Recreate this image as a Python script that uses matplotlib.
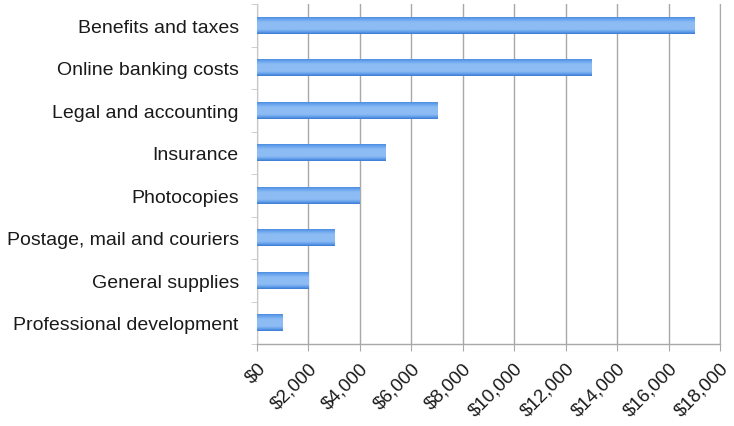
import numpy as np
import matplotlib
matplotlib.use('Agg')
import matplotlib.pyplot as plt
from matplotlib.ticker import FuncFormatter, MultipleLocator, FixedLocator
from matplotlib.colors import LinearSegmentedColormap

categories = ['Benefits and taxes', 'Online banking costs', 'Legal and accounting',
              'Insurance', 'Photocopies', 'Postage, mail and couriers',
              'General supplies', 'Professional development']
costs = [17000, 13000, 7000, 5000, 4000, 3000, 2000, 1000]

plt.rcParams['font.family'] = ['Liberation Sans', 'DejaVu Sans']

fig = plt.figure(figsize=(7.34, 4.27), dpi=100)
ax = fig.add_axes([0.350, 0.192, 0.631, 0.796])

y = np.arange(len(categories))[::-1]
bars = ax.barh(y, costs, height=0.40, color='#6aa6ea', zorder=3)

# cylinder-like shading on each bar
shade = np.concatenate([
    np.linspace(0.0, 1.0, 18), np.ones(26), np.linspace(1.0, 0.25, 20)
]).reshape(-1, 1)
cmap = LinearSegmentedColormap.from_list('cyl', ['#3c7bd2', '#62a0ec', '#8dbcf4'])
for b in bars:
    x0, y0 = b.get_x(), b.get_y()
    w, h = b.get_width(), b.get_height()
    im = ax.imshow(shade, cmap=cmap, aspect='auto', extent=[x0, x0 + w, y0, y0 + h],
                   origin='lower', zorder=4, vmin=0, vmax=1, interpolation='bilinear')
    im.set_clip_path(b)

ax.set_xlim(0, 18000)
ax.set_ylim(-0.5, len(categories) - 0.5)
ax.xaxis.set_major_locator(MultipleLocator(2000))
ax.xaxis.set_major_formatter(FuncFormatter(lambda v, p: '${:,.0f}'.format(v)))
ax.set_yticks(y)
ax.set_yticklabels(categories)
ax.yaxis.set_minor_locator(FixedLocator(np.arange(-0.5, len(categories), 1)))

ax.grid(axis='x', color='#a8a8a8', linewidth=1.0, zorder=0)
ax.set_axisbelow(True)

ax.spines['top'].set_visible(False)
ax.spines['right'].set_color('#a8a8a8')
ax.spines['left'].set_color('#c8c8c8')
ax.spines['bottom'].set_color('#a8a8a8')
ax.spines['bottom'].set_linewidth(1.0)

ax.tick_params(axis='y', which='major', length=0, pad=13, labelsize=14, labelcolor='#1a1a1a')
ax.tick_params(axis='y', which='minor', length=4, color='#c8c8c8')
ax.tick_params(axis='x', length=5, color='#a8a8a8', labelsize=13.5, labelcolor='#1a1a1a', pad=6)
for lab in ax.get_xticklabels():
    lab.set_rotation(45)
    lab.set_ha('right')
    lab.set_rotation_mode('anchor')

fig.savefig('out.png', dpi=100)
